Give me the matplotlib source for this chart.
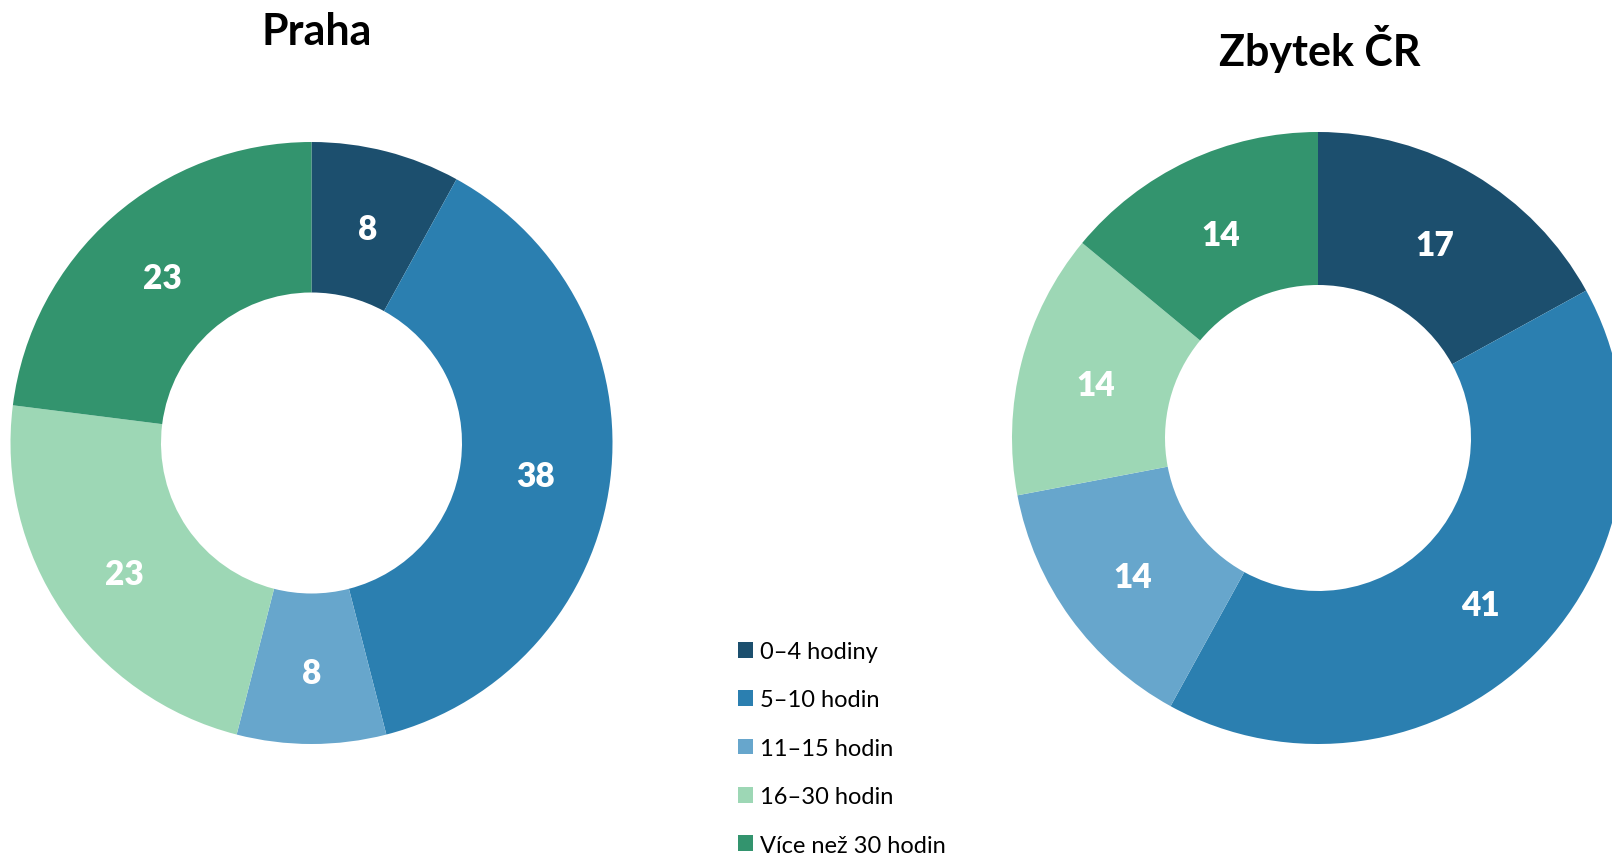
import matplotlib
matplotlib.use("Agg")
import matplotlib.pyplot as plt
import matplotlib.transforms as mtransforms
from matplotlib.patches import Patch

plt.rcParams['font.family'] = ['Lato', 'DejaVu Sans']

categories = ["0–4 hodiny", "5–10 hodin", "11–15 hodin", "16–30 hodin", "Více než 30 hodin"]
praha_values = [8, 38, 8, 23, 23]
zbytek_values = [17, 41, 14, 14, 14]
titles = ["Praha", "Zbytek ČR"]
colors = ["#1c4f6e", "#2b7fb0", "#67a6cc", "#9dd7b5", "#33946e"]

W, H = 1612, 854
fig = plt.figure(figsize=(W / 100, H / 100), dpi=100)

def donut(cx, cy, r, values):
    ax = fig.add_axes([(cx - r) / W, (H - cy - r) / H, 2 * r / W, 2 * r / H])
    wedges, texts = ax.pie(values, colors=colors, startangle=90, counterclock=False,
                           radius=1, wedgeprops=dict(width=0.5, edgecolor='none'),
                           labels=[str(v) for v in values], labeldistance=0.75)
    for t in texts:
        t.set_color('white')
        t.set_fontsize(24)
        t.set_fontweight('heavy')
        t.set_ha('center')
        t.set_va('center')
        t.set_transform(mtransforms.offset_copy(t.get_transform(), fig=fig, y=-4.5, units='dots'))
    ax.set_xlim(-1, 1)
    ax.set_ylim(-1, 1)
    ax.set_aspect('equal')
    ax.axis('off')
    return ax

donut(311.5, 444, 301, praha_values)
donut(1318, 439, 306, zbytek_values)

fig.text(317 / W, 1 - 32 / H, titles[0], ha='center', va='center', fontsize=31, fontweight='bold')
fig.text(1320 / W, 1 - 49 / H, titles[1], ha='center', va='center', fontsize=31, fontweight='bold')

handles = [Patch(facecolor=c, edgecolor='none') for c in colors]
fig.legend(handles, categories, loc='upper left', bbox_to_anchor=(738 / W, 1 - 642 / H),
           frameon=False, fontsize=17, handlelength=0.64, handleheight=0.64,
           handletextpad=0.3, labelspacing=1.16, borderpad=0, borderaxespad=0)

fig.savefig("out.png", dpi=100)
